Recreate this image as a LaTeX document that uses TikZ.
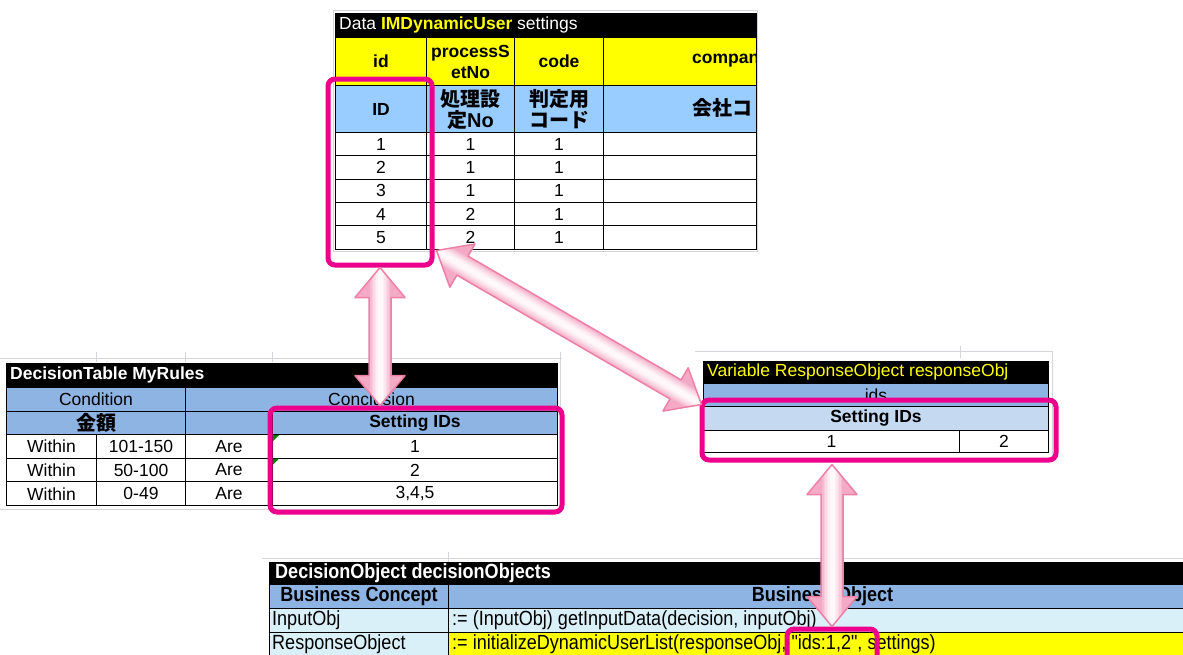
\documentclass[tikz,border=0pt]{standalone}
\usepackage{fontspec}
\setmainfont{Liberation Sans}
\newfontfamily\narrowfont{Liberation Sans}[FakeStretch=0.88]
\newfontfamily\jpfont{Noto Sans CJK JP}
\usetikzlibrary{calc}

\definecolor{BoxPink}{RGB}{236,0,140}
\definecolor{ArrowEdge}{RGB}{238,128,166}
\definecolor{ArrowFill}{RGB}{244,170,196}
\definecolor{HeadBlue}{RGB}{141,180,226}
\definecolor{SkyBlue}{RGB}{153,204,255}
\definecolor{PaleBlue}{RGB}{197,217,241}
\definecolor{PaleCyan}{RGB}{218,240,248}
\definecolor{GridGrey}{RGB}{212,214,220}
\definecolor{SheetYellow}{RGB}{255,255,0}
\definecolor{NoteGreen}{RGB}{0,128,0}

\tikzset{
	cellbox/.style={draw=black, line width=1pt, inner sep=0pt, anchor=north west, align=center},
	pinkbox/.style={draw=BoxPink, line width=5pt, rounded corners=7pt, inner sep=0pt, anchor=north west},
	lefttext/.style={anchor=west, inner sep=0pt}
}
\newcommand\cell[7]{\node[cellbox, fill=#6, minimum width=#4pt, minimum height=#5pt] (#1) at (#2,#3) {#7};}
\newcommand\narrowtxt{\narrowfont\fontsize{20.5}{23}\selectfont}
\newcommand\arrowpath[2]{(#1) -- ($(#1)!30pt!(#2)!25pt!90:(#2)$) -- ($(#1)!30pt!(#2)!11pt!90:(#2)$)
	-- ($(#2)!30pt!(#1)!11pt!-90:(#1)$) -- ($(#2)!30pt!(#1)!25pt!-90:(#1)$) -- (#2)
	-- ($(#2)!30pt!(#1)!25pt!90:(#1)$) -- ($(#2)!30pt!(#1)!11pt!90:(#1)$)
	-- ($(#1)!30pt!(#2)!11pt!-90:(#2)$) -- ($(#1)!30pt!(#2)!25pt!-90:(#2)$) -- cycle}
\newcommand\pinkarrow[2]{%
	\begin{scope}
		\clip \arrowpath{#1}{#2};
		\fill[ArrowFill] \arrowpath{#1}{#2};
		\foreach \wd/\tn in {20/20, 17/38, 14/55, 11/70, 8/82, 5/92}
			\draw[line width=\wd pt, white!\tn!ArrowFill] (#1) -- (#2);
	\end{scope}
	\draw[ArrowEdge, line width=1.5pt, line join=round] \arrowpath{#1}{#2};
}

\begin{document}
\begin{tikzpicture}[x=1pt, y=-1pt, font=\fontsize{17.5}{21}\selectfont]
	\clip (0,0) rectangle (1183,654);
	\fill[white] (0,0) rectangle (1183,654);

	% sheet grid around the tables
	\draw[GridGrey] (333,10) rectangle (757,251);
	\draw[GridGrey] (0,358) -- (562,358) (96,352) -- (96,362) (185,352) -- (185,362) (272,352) -- (272,362) (560,352) -- (560,510) (0,509) -- (560,509);
	\draw[GridGrey] (695,351) -- (1053,351) (1052,351) -- (1052,456) (960,346) -- (960,358);
	\draw[GridGrey] (262,558) -- (1183,558) (448,552) -- (448,562);

	% Data IMDynamicUser settings
	\cell{tA}{335}{13}{421}{24}{black}{}
	\node[lefttext, text=white] (tAtext) at (339,25) {Data \textcolor{SheetYellow}{\bfseries IMDynamicUser} settings};
	\cell{aid}{335}{37}{91}{48}{SheetYellow}{\bfseries id}
	\cell{apno}{426}{37}{88}{48}{SheetYellow}{\bfseries processS\\\bfseries etNo}
	\cell{acode}{514}{37}{89}{48}{SheetYellow}{\bfseries code}
	\cell{acomp}{603}{37}{153}{48}{SheetYellow}{}
	\cell{bid}{335}{85}{91}{47}{SkyBlue}{\bfseries ID}
	\cell{bpno}{426}{85}{88}{47}{SkyBlue}{\fontsize{20}{23}\selectfont\jpfont\bfseries 処理設\\\fontsize{20}{23}\selectfont\bfseries{\jpfont 定}No}
	\cell{bcode}{514}{85}{89}{47}{SkyBlue}{\fontsize{20}{23}\selectfont\jpfont\bfseries 判定用\\\fontsize{20}{23}\selectfont\jpfont\bfseries コード}
	\cell{bcomp}{603}{85}{153}{47}{SkyBlue}{}
	\begin{scope}
		\clip (603,37) rectangle (755,132);
		\node[lefttext] (acomptext) at (692,61) {\bfseries compan};
		\node[lefttext] (bcomptext) at (692,108) {\fontsize{20}{23}\selectfont\jpfont\bfseries 会社コ};
	\end{scope}
	\foreach \p [count=\i, evaluate=\i as \ry using 132+(\i-1)*23.3] in {1,1,1,2,2} {
		\cell{ra\i}{335}{\ry}{91}{23.3}{white}{\i}
		\cell{rb\i}{426}{\ry}{88}{23.3}{white}{\p}
		\cell{rc\i}{514}{\ry}{89}{23.3}{white}{1}
		\cell{rd\i}{603}{\ry}{153}{23.3}{white}{}
	}

	% DecisionTable MyRules
	\cell{tB}{6}{363}{551}{24}{black}{}
	\node[lefttext, text=white] (tBtext) at (10,375) {\bfseries DecisionTable MyRules};
	\cell{cond}{6}{387}{179}{24}{HeadBlue}{Condition}
	\cell{concl}{185}{387}{372}{24}{HeadBlue}{Conclusion}
	\cell{amount}{6}{411}{179}{23}{HeadBlue}{\fontsize{20}{23}\selectfont\jpfont\bfseries 金額}
	\cell{gap}{185}{411}{87}{23}{HeadBlue}{}
	\cell{setid}{272}{411}{285}{23}{HeadBlue}{\bfseries Setting IDs}
	\foreach \rng/\val [count=\i, evaluate=\i as \ry using 434+(\i-1)*23.7] in {101-150/1, 50-100/2, 0-49/{3,4,5}} {
		\cell{w\i}{6}{\ry}{90}{23.7}{white}{Within}
		\cell{g\i}{96}{\ry}{89}{23.7}{white}{\rng}
		\cell{are\i}{185}{\ry}{87}{23.7}{white}{Are}
		\cell{v\i}{272}{\ry}{285}{23.7}{white}{\val}
	}
	\foreach \i in {1,2}
		\fill[NoteGreen] ($(v\i.north west)+(1,1)$) -- ++(6,0) -- ++(-6,6) -- cycle;

	% Variable ResponseObject responseObj
	\cell{tC}{703}{361}{345}{22}{black}{}
	\node[lefttext, text=SheetYellow] (tCtext) at (707,372) {Variable ResponseObject responseObj};
	\cell{idsrow}{703}{383}{345}{23}{HeadBlue}{ids}
	\cell{csetid}{703}{406}{345}{24}{PaleBlue}{\bfseries Setting IDs}
	\cell{cone}{703}{430}{256}{22}{white}{1}
	\cell{ctwo}{959}{430}{89}{22}{white}{2}

	% DecisionObject decisionObjects
	\cell{tD}{269}{562}{930}{22}{black}{}
	\node[lefttext, text=white] (tDtext) at (275,573) {\narrowtxt\bfseries DecisionObject decisionObjects};
	\cell{bconc}{269}{584}{179}{24}{HeadBlue}{\narrowtxt\bfseries Business Concept}
	\cell{bobj}{448}{584}{748}{24}{HeadBlue}{\narrowtxt\bfseries Business Object}
	\cell{inL}{269}{608}{179}{24}{PaleCyan}{}
	\cell{inR}{448}{608}{748}{24}{PaleCyan}{}
	\cell{resL}{269}{632}{179}{24}{PaleCyan}{}
	\cell{resR}{448}{632}{748}{24}{SheetYellow}{}
	\node[lefttext] (inLtext) at (272,620) {\narrowtxt InputObj};
	\node[lefttext] (inRtext) at (452,620) {\narrowtxt := (InputObj) getInputData(decision, inputObj)};
	\node[lefttext] (resLtext) at (272,644) {\narrowtxt ResponseObject};
	\node[lefttext] (resRtext) at (452,644) {\narrowtxt := initializeDynamicUserList(responseObj, "ids:1,2", settings)};

	% highlight frames
	\node[pinkbox, minimum width=104pt, minimum height=186pt] (idsel) at (325.5,76.5) {};
	\node[pinkbox, minimum width=292pt, minimum height=104pt] (setsel) at (267.5,405.5) {};
	\node[pinkbox, minimum width=354pt, minimum height=60pt] (rsel) at (699.5,397.5) {};
	\node[pinkbox, minimum width=90pt, minimum height=45pt] (ids12) at (784.5,626.5) {};

	% arrows between the frames
	\coordinate (a1top) at (idsel.south);
	\coordinate (a1bot) at (idsel.south |- setsel.north);
	\coordinate (a2top) at ($(idsel.south east)+(2,-17)$);
	\coordinate (a2bot) at ($(rsel.north west)+(2,7)$);
	\coordinate (a3top) at ($(rsel.south -| ids12.north)+(0,2)$);
	\coordinate (a3bot) at (ids12.north);
	\pinkarrow{a1top}{a1bot}
	\pinkarrow{a2top}{a2bot}
	\pinkarrow{a3top}{a3bot}
\end{tikzpicture}
\end{document}
